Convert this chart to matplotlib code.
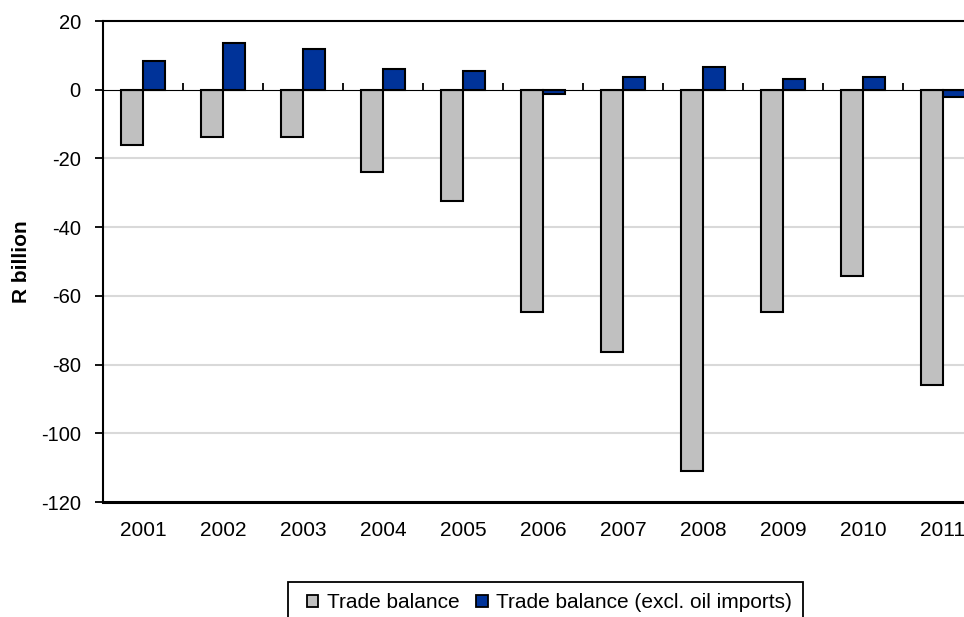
import matplotlib
matplotlib.use("Agg")
import matplotlib.pyplot as plt
from matplotlib.patches import Rectangle, Patch
import numpy as np

plt.rcParams['font.family'] = ['Liberation Sans', 'DejaVu Sans']

years = ['2001', '2002', '2003', '2004', '2005', '2006',
         '2007', '2008', '2009', '2010', '2011']
trade_balance = [-16.2, -13.9, -13.9, -24.0, -32.5, -64.8,
                 -76.4, -111.0, -64.8, -54.1, -85.9]
trade_balance_ex_oil = [8.4, 13.6, 11.9, 6.1, 5.5, -1.2,
                        3.6, 6.7, 3.1, 3.7, -2.1]
y_ticks = [20, 0, -20, -40, -60, -80, -100, -120]

W, H = 964, 617
fig = plt.figure(figsize=(W / 100, H / 100), dpi=100)
ax = fig.add_axes([103 / W, 1 - 502 / H, 880 / W, 481 / H])

x = np.arange(len(years))
bw = 0.28
ax.bar(x - bw / 2, trade_balance, bw, color='#C0C0C0', edgecolor='black',
       linewidth=1.5, zorder=3, label='Trade balance')
ax.bar(x + bw / 2, trade_balance_ex_oil, bw, color='#003399', edgecolor='black',
       linewidth=1.5, zorder=3, label='Trade balance (excl. oil imports)')

ax.set_xlim(-0.5, len(years) - 0.5)
ax.set_ylim(-120, 20)
ax.set_yticks(y_ticks)
ax.set_yticklabels([str(v) for v in y_ticks])
ax.tick_params(axis='y', direction='out', length=6, width=1.3, pad=10,
               labelsize=14.5)

# gridlines only at the negative levels
for v in y_ticks[2:-1]:
    ax.axhline(v, color='#d9d9d9', lw=1.5, zorder=1)

# category labels along the bottom
ax.set_xticks(x)
ax.set_xticklabels(years)
ax.tick_params(axis='x', length=0, pad=14, labelsize=15)

for s in ['left', 'top', 'right']:
    ax.spines[s].set_linewidth(1.5)
ax.spines['bottom'].set_linewidth(2.2)

# zero line with tick marks between categories
zero_ax = ax.secondary_xaxis(120 / 140)
zero_ax.set_xticks(np.arange(len(years) + 1) - 0.5)
zero_ax.set_xticklabels([])
zero_ax.tick_params(axis='x', direction='out', length=5, width=1.3)
zero_ax.spines['bottom'].set_linewidth(2.0)
zero_ax.set_zorder(4)

ax.set_ylabel('R billion', fontsize=15, fontweight='bold')
ax.yaxis.set_label_coords((21.5 - 103) / 880, 0.5)
ax.yaxis.label.set_va('center')

# legend box
fig.patches.append(Rectangle((288 / W, -0.05), (803 - 288) / W,
                             (1 - 581.5 / H) + 0.05, transform=fig.transFigure,
                             facecolor='white', edgecolor='black', lw=1.3))
handles = [Patch(facecolor='#C0C0C0', edgecolor='black', lw=1.3),
           Patch(facecolor='#003399', edgecolor='black', lw=1.3)]
fig.legend(handles, ['Trade balance', 'Trade balance (excl. oil imports)'],
           loc='center left', bbox_to_anchor=(307 / W, 1 - 603 / H),
           ncol=2, frameon=False, fontsize=15, handlelength=0.55,
           handleheight=0.55, handletextpad=0.4, columnspacing=0.8,
           borderpad=0, borderaxespad=0)

fig.savefig('out.png', dpi=100)
